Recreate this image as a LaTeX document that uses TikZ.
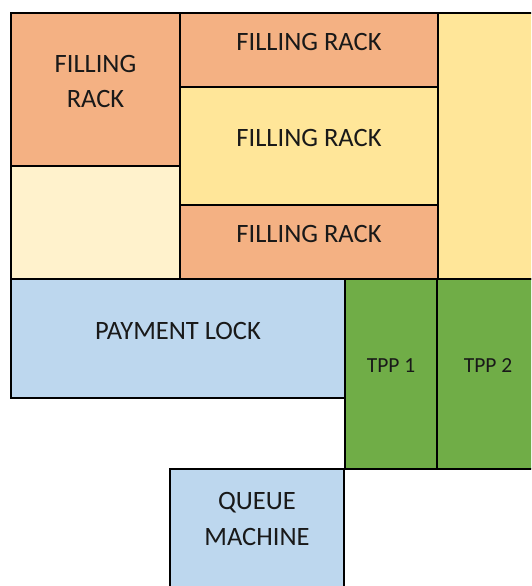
\documentclass[tikz,border=0pt]{standalone}
\usepackage{fontspec}
\setmainfont{Carlito}

\definecolor{rackfill}{HTML}{F4B183}
\definecolor{spacefill}{HTML}{FFF2CC}
\definecolor{lanefill}{HTML}{FFE699}
\definecolor{deskfill}{HTML}{BDD7EE}
\definecolor{tppfill}{HTML}{70AD47}

\begin{document}
\begin{tikzpicture}[x=1pt, y=-1pt,
    room/.style={draw=black, line width=2pt, anchor=north west,
        inner sep=0pt, outer sep=0pt},
    tag/.style={font=\fontsize{26.5}{35.5}\selectfont, align=center,
        text=black!90},
    smalltag/.style={font=\fontsize{21.5}{26}\selectfont, text=black!90}]
    \def \shift {8pt};

    % page
    \useasboundingbox (0,0) rectangle (531,586);
    \clip (0,0) rectangle (531,586);

    % filling racks
    \node [room, fill=rackfill, minimum width=169, minimum height=153] (rackA) at (11,13) {};
    \node [room, fill=spacefill, minimum width=169, minimum height=113] (spare) at (11,166) {};
    \node [room, fill=rackfill, minimum width=258, minimum height=74] (rackB) at (180,13) {};
    \node [room, fill=lanefill, minimum width=258, minimum height=118] (rackC) at (180,87) {};
    \node [room, fill=rackfill, minimum width=258, minimum height=74] (rackD) at (180,205) {};
    \node [room, fill=lanefill, minimum width=120, minimum height=266] (lane) at (438,13) {};

    % payment and tpp
    \node [room, fill=deskfill, minimum width=334, minimum height=119] (pay) at (11,279) {};
    \node [room, fill=tppfill, minimum width=92, minimum height=190] (tppA) at (345,279) {};
    \node [room, fill=tppfill, minimum width=120, minimum height=190] (tppB) at (437,279) {};

    % queue machine
    \node [room, fill=deskfill, minimum width=174, minimum height=160] (queue) at (170,469) {};

    % labels
    \node [tag] (rackAtext) at ([yshift=\shift]rackA.center) {FILLING\\RACK};
    \node [tag] (rackBtext) at ([yshift=\shift]rackB.center) {FILLING RACK};
    \node [tag] (rackCtext) at ([yshift=\shift]rackC.center) {FILLING RACK};
    \node [tag] (rackDtext) at ([yshift=\shift]rackD.center) {FILLING RACK};
    \node [tag] (paytext) at ([yshift=\shift]pay.center) {PAYMENT LOCK};
    \node [smalltag] (tppAtext) at ([yshift=\shift]tppA.center) {TPP 1};
    \node [smalltag] (tppBtext) at (488,366) {TPP 2};
    \node [tag] (queuetext) at (257,519) {QUEUE\\MACHINE};
\end{tikzpicture}
\end{document}
